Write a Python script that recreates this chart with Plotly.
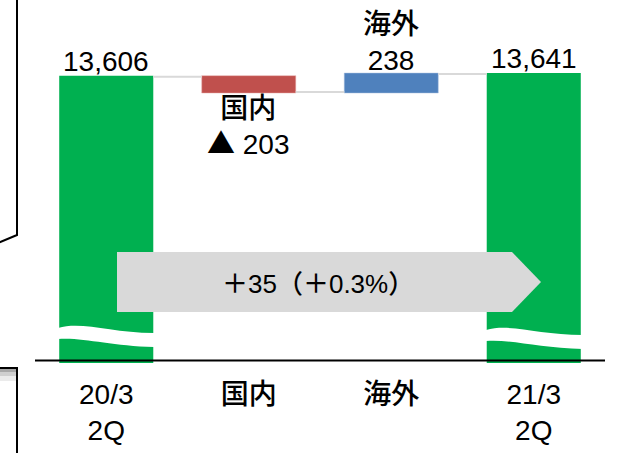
import plotly.graph_objects as go

# data
categories = ["20/3<br>2Q", "国内", "海外", "21/3<br>2Q"]
segments = ["", "国内", "海外", ""]
values = [13606, -203, 238, 13641]
measures = ["absolute", "relative", "relative", "absolute"]

W, H = 619, 453
L, R, T, B = 35, 14, 20, 90
FONT = "Liberation Sans, Arial, Noto Sans CJK JP"
TRI = "<span style='font-family:Noto Sans CJK JP'>▲</span>"


def fx(p):
    # page pixel -> paper x
    return (p - L) / (W - L - R)


def fy(p):
    # page pixel -> paper y
    return (H - B - p) / (H - T - B)


def lab_font(size=28):
    return dict(size=size, family=FONT, color="black", weight=500)


fig = go.Figure(go.Waterfall(
    x=list(range(len(categories))),
    y=values,
    measure=measures,
    width=0.66,
    totals=dict(marker=dict(color="#00B050", line=dict(width=0))),
    decreasing=dict(marker=dict(color="#C0504D", line=dict(width=0.5, color="#e8b0ae"))),
    increasing=dict(marker=dict(color="#4F81BD", line=dict(width=0.5, color="#b0c4e0"))),
    connector=dict(mode="between", line=dict(color="#D9D9D9", width=2)),
    hoverinfo="skip",
))

annotations = []
# totals above green bars
for i in (0, 3):
    annotations.append(dict(x=i, y=values[i], text=f"{values[i]:,}", showarrow=False,
                            yanchor="bottom", yshift=-2, font=lab_font()))

# domestic (decrease) under the bar
dom_bottom = values[0] + values[1]
annotations.append(dict(x=1, y=dom_bottom, text=f"{segments[1]}<br>{TRI} {abs(values[1])}",
                        showarrow=False, yanchor="top", yshift=1, font=lab_font()))

# overseas (increase) above the bar
ovs_top = dom_bottom + values[2]
annotations.append(dict(x=2, y=ovs_top, text=f"{segments[2]}<br>{values[2]}",
                        showarrow=False, yanchor="bottom", yshift=-4, font=lab_font()))

# change arrow text
diff = values[3] - values[0]
pct = diff / values[0] * 100
annotations.append(dict(xref="paper", yref="paper", x=fx(318), y=fy(284),
                        text=f"＋{diff}（＋{pct:.1f}%）", showarrow=False,
                        xanchor="center", yanchor="middle", font=lab_font(26)))

shapes = []
# gray arrow
arrow = [(117, 252), (512, 252), (541, 282), (512, 312), (117, 312)]
shapes.append(dict(type="path", xref="paper", yref="paper",
                   path="M " + " L ".join(f"{fx(a)},{fy(b)}" for a, b in arrow) + " Z",
                   fillcolor="#D9D9D9", line=dict(width=0)))


# wavy axis-break bands on the green bars
def wave(left, right, dy):
    w = right - left
    pts = (f"M {fx(left - 1)},{fy(328 + dy)} "
           f"C {fx(left + 0.25 * w)},{fy(321 + dy)} {fx(left + 0.55 * w)},{fy(333 + dy)} {fx(right + 1)},{fy(333 + dy)} "
           f"L {fx(right + 1)},{fy(347 + dy)} "
           f"C {fx(left + 0.55 * w)},{fy(346 + dy)} {fx(left + 0.25 * w)},{fy(337 + dy)} {fx(left - 1)},{fy(339 + dy)} Z")
    return dict(type="path", xref="paper", yref="paper", path=pts,
                fillcolor="white", line=dict(width=0))


shapes.append(wave(59, 153, 0))
shapes.append(wave(487, 582, 2))

# baseline
shapes.append(dict(type="line", xref="paper", yref="paper", x0=0, x1=1,
                   y0=fy(360.5), y1=fy(360.5), line=dict(color="black", width=2)))

# clipped slide frames on the left edge
shapes.append(dict(type="path", xref="paper", yref="paper",
                   path=f"M {fx(17)},{fy(-2)} L {fx(17)},{fy(235)} L {fx(-2)},{fy(243)}",
                   line=dict(color="black", width=2)))
for y0, y1, c in [(369, 372, "#a8a8a8"), (372, 376, "#cfcfcf"), (376, 381, "#ebebeb")]:
    shapes.append(dict(type="rect", xref="paper", yref="paper",
                       x0=fx(-2), x1=fx(16), y0=fy(y0), y1=fy(y1),
                       fillcolor=c, line=dict(width=0)))
shapes.append(dict(type="path", xref="paper", yref="paper",
                   path=f"M {fx(-2)},{fy(368)} L {fx(17)},{fy(368)} L {fx(17)},{fy(455)}",
                   line=dict(color="black", width=2)))

fig.update_layout(
    width=W, height=H,
    margin=dict(l=L, r=R, t=T, b=B),
    plot_bgcolor="white", paper_bgcolor="white",
    showlegend=False,
    annotations=annotations,
    shapes=shapes,
    xaxis=dict(range=[-0.5, 3.5], tickvals=list(range(len(categories))), ticktext=categories,
               showgrid=False, zeroline=False, showline=False, ticks="", automargin=False,
               ticklabelstandoff=12, tickfont=lab_font()),
    yaxis=dict(range=[9827, 14354], visible=False, showgrid=False, zeroline=False,
               automargin=False),
)

fig.write_html("out.html", config={"displayModeBar": False},
               post_script="document.body.style.margin='0';")
